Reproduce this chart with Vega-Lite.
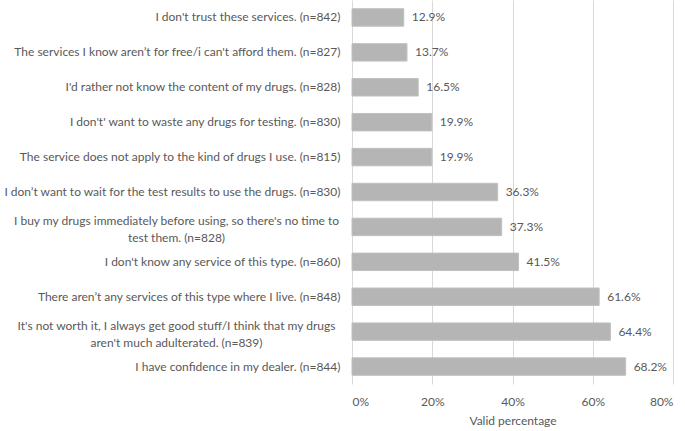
{
  "$schema": "https://vega.github.io/schema/vega-lite/v6.json",
  "width": 321,
  "height": 384,
  "autosize": {"type": "none"},
  "padding": {"left": 352, "top": 0, "right": 12, "bottom": 47},
  "background": "white",
  "config": {
    "view": {"stroke": null},
    "font": "Lato",
    "text": {"font": "Lato", "fontSize": 12, "color": "#595959"}
  },
  "data": {
    "values": [
      {"reason": "I don't trust these services. (n=842)", "share": 0.129},
      {"reason": "The services I know aren’t for free/i can't afford them. (n=827)", "share": 0.137},
      {"reason": "I'd rather not know the content of my drugs. (n=828)", "share": 0.165},
      {"reason": "I don't' want to waste any drugs for testing. (n=830)", "share": 0.199},
      {"reason": "The service does not apply to the kind of drugs I use. (n=815)", "share": 0.199},
      {"reason": "I don’t want to wait for the test results to use the drugs. (n=830)", "share": 0.363},
      {"reason": "I buy my drugs immediately before using, so there's no time to|test them. (n=828)", "share": 0.373},
      {"reason": "I don't know any service of this type. (n=860)", "share": 0.415},
      {"reason": "There aren’t any services of this type where I live. (n=848)", "share": 0.616},
      {"reason": "It's not worth it, I always get good stuff/I think that my drugs|aren't much adulterated. (n=839)", "share": 0.644},
      {"reason": "I have confidence in my dealer. (n=844)", "share": 0.682}
    ]
  },
  "encoding": {
    "y": {
      "field": "reason",
      "type": "nominal",
      "sort": null,
      "scale": {"paddingInner": 0.5, "paddingOuter": 0.25},
      "axis": {
        "title": null,
        "domain": false,
        "ticks": false,
        "labelFont": "Lato",
        "labelFontSize": 12,
        "labelColor": "#595959",
        "labelLimit": 400,
        "labelLineHeight": 17,
        "labelExpr": "split(datum.label, '|')",
        "labelAlign": {"condition": {"test": "indexof(datum.value, '|') >= 0", "value": "center"}, "value": "right"},
        "labelPadding": {"condition": {"test": "indexof(datum.value, '|') >= 0", "value": 176}, "value": 12},
        "labelOffset": {"condition": {"test": "indexof(datum.value, '|') >= 0", "value": -6}, "value": 0}
      }
    },
    "x": {
      "field": "share",
      "type": "quantitative",
      "scale": {"domain": [0, 0.8]},
      "axis": {
        "title": "Valid percentage",
        "titleFont": "Lato",
        "titleFontSize": 12,
        "titleFontWeight": "normal",
        "titleColor": "#595959",
        "titlePadding": 8,
        "format": "%",
        "values": [0, 0.2, 0.4, 0.6, 0.8],
        "domain": false,
        "ticks": false,
        "labelFont": "Lato",
        "labelFontSize": 12,
        "labelColor": "#595959",
        "labelPadding": 12,
        "grid": true,
        "gridColor": "#d9d9d9",
        "gridWidth": 1
      }
    }
  },
  "layer": [
    {
      "mark": {"type": "bar", "color": "#b5b5b5", "stroke": "#c0c0c0", "strokeWidth": 1}
    },
    {
      "mark": {"type": "text", "align": "left", "baseline": "middle", "dx": 8},
      "encoding": {
        "text": {"field": "share", "type": "quantitative", "format": ".1%"}
      }
    }
  ]
}
